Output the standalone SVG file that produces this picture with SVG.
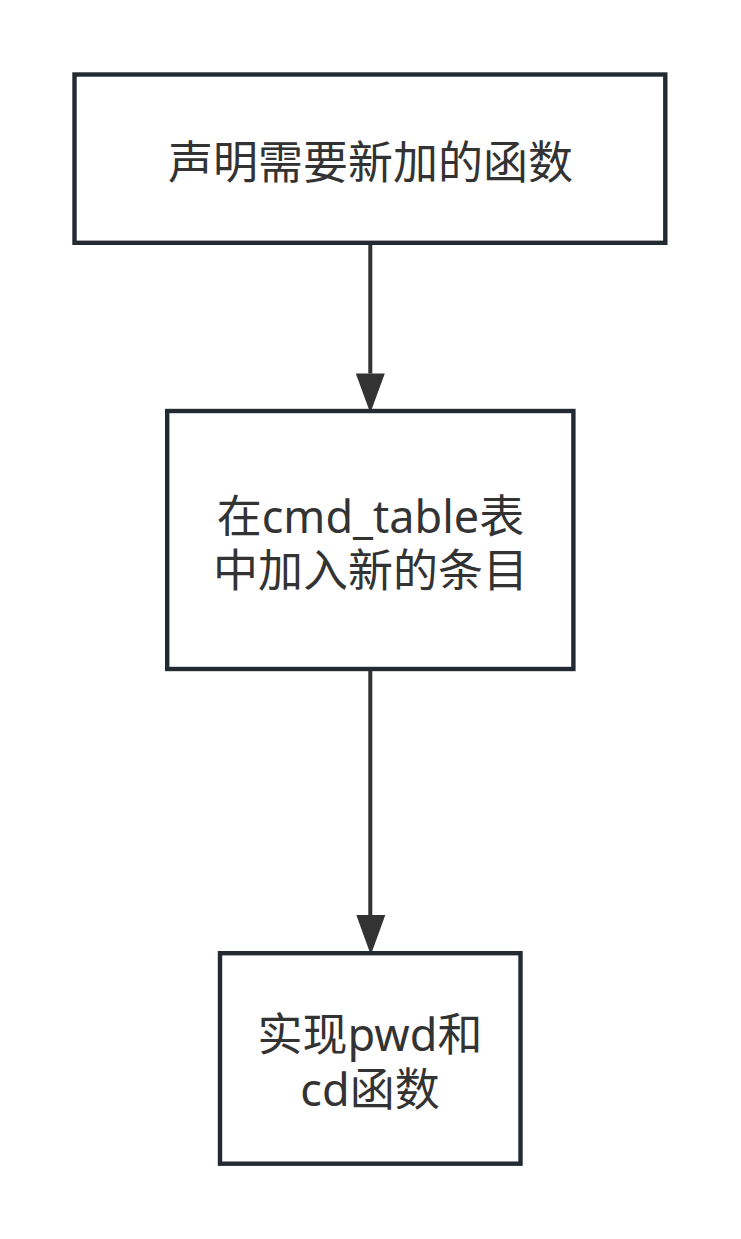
<svg xmlns="http://www.w3.org/2000/svg" width="741" height="1239" viewBox="0 0 741 1239">
  <style>
    .box { fill: #ffffff; stroke: #232a31; stroke-width: 4.4; }
    .lbl { font-family: "Noto Sans", "Noto Sans CJK SC", sans-serif; font-size: 45px; fill: #333333; text-anchor: middle; }
    .edge { stroke: #333333; stroke-width: 4; fill: none; }
  </style>
  <defs>
    <marker id="arr" markerUnits="userSpaceOnUse" markerWidth="30" markerHeight="42" refX="14.5" refY="40" orient="auto-start-reverse" viewBox="0 0 29 42">
      <path d="M0,0 L29,0 L14.5,40 Z" fill="#333333"/>
    </marker>
  </defs>
  <rect width="741" height="1239" fill="#ffffff"/>
  <g id="connectors">
    <line class="edge" x1="370.3" y1="243" x2="370.3" y2="373.5"/>
    <path d="M355.8,373.5 L384.8,373.5 L370.3,413 Z" fill="#333333"/>
    <line class="edge" x1="370.3" y1="669" x2="370.3" y2="915"/>
    <path d="M356.3,915 L385.3,915 L370.8,955 Z" fill="#333333"/>
  </g>
  <g id="node1">
    <rect class="box" x="74.5" y="74.5" width="590.8" height="168.3"/>
    <text class="lbl" x="370.5" y="179">声明需要新加的函数</text>
  </g>
  <g id="node2">
    <rect class="box" x="167.2" y="411" width="406.2" height="258"/>
    <text class="lbl" x="370.5" y="533">在cmd_table表</text>
    <text class="lbl" x="370.5" y="586.5">中加入新的条目</text>
  </g>
  <g id="node3">
    <rect class="box" x="220" y="953.2" width="300.5" height="210.5"/>
    <text class="lbl" x="370" y="1051">实现pwd和</text>
    <text class="lbl" x="370" y="1105.5">cd函数</text>
  </g>
</svg>
